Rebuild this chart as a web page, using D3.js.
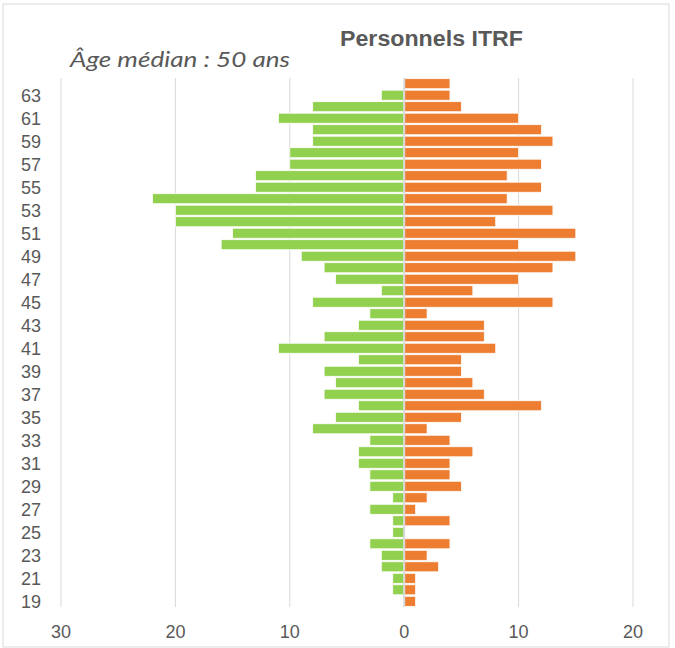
<!DOCTYPE html>
<html>
<head>
<meta charset="utf-8">
<script src="https://cdn.jsdelivr.net/npm/d3@7"></script>
<style>
  body { margin: 0; background: #fff; }
  svg { display: block; }
</style>
</head>
<body>
<script>
"use strict";

// ages from 19 to 64, top of the pyramid is 64
var ages = [19,20,21,22,23,24,25,26,27,28,29,30,31,32,33,34,35,36,37,38,39,40,41,
            42,43,44,45,46,47,48,49,50,51,52,53,54,55,56,57,58,59,60,61,62,63,64];
// left side (green), same order as ages
var greenValues = [0,1,1,2,2,3,1,1,3,1,3,3,4,4,3,8,6,4,7,6,7,4,11,
                   7,4,3,8,2,6,7,9,16,15,20,20,22,13,13,10,10,8,8,11,8,2,0];
// right side (orange)
var orangeValues = [1,1,1,3,2,4,0,4,1,2,5,4,4,6,4,2,5,12,7,6,5,5,8,
                    7,7,2,13,6,10,13,15,10,15,8,13,9,12,9,12,10,13,12,10,5,4,4];
var xTicks = [-30,-20,-10,0,10,20];
var title = "Personnels ITRF";
var subtitle = "Âge médian : 50 ans";

function pyramid(){
  var width = 675,
      height = 648;
  var svg = d3.select("body")
              .append("svg")
              .attr("width", width)
              .attr("height", height);

  svg.append("rect")
      .attr("x", 3).attr("y", 4)
      .attr("width", 666).attr("height", 643)
      .attr("fill", "#fff")
      .attr("stroke", "#d9d9d9")
      .attr("stroke-width", 1);

  var x = d3.scaleLinear()
      .domain([-30, 20])
      .range([61, 633]);

  var y = d3.scaleBand()
      .domain(ages.slice().reverse())
      .range([78, 607])
      .paddingInner(0.13)
      .paddingOuter(0.06);

  // vertical grid lines
  svg.append("g")
      .selectAll("line")
      .data(xTicks.filter(function(d){ return d !== 0; }))
      .enter().append("line")
        .attr("x1", function(d){ return x(d); })
        .attr("x2", function(d){ return x(d); })
        .attr("y1", 78)
        .attr("y2", 607)
        .style("stroke", "#d9d9d9")
        .style("stroke-width", 1);

  var rows = ages.map(function(a, i){
    return {age: a, green: greenValues[i], orange: orangeValues[i]};
  });

  svg.append("g")
      .selectAll("rect")
      .data(rows.filter(function(d){ return d.green > 0; }))
      .enter().append("rect")
        .attr("x", function(d){ return x(-d.green); })
        .attr("y", function(d){ return y(d.age); })
        .attr("width", function(d){ return x(0) - x(-d.green); })
        .attr("height", y.bandwidth())
        .attr("fill", "#92D050")
        .style("stroke", "#ffffff")
        .style("stroke-width", "0.75");

  svg.append("g")
      .selectAll("rect")
      .data(rows.filter(function(d){ return d.orange > 0; }))
      .enter().append("rect")
        .attr("x", x(0))
        .attr("y", function(d){ return y(d.age); })
        .attr("width", function(d){ return x(d.orange) - x(0); })
        .attr("height", y.bandwidth())
        .attr("fill", "#ED7D31")
        .style("stroke", "#ffffff")
        .style("stroke-width", "0.75");

  // zero axis
  svg.append("line")
      .attr("x1", x(0)).attr("x2", x(0))
      .attr("y1", 78).attr("y2", 607)
      .style("stroke", "#d9d9d9")
      .style("stroke-width", 2);

  // age labels, every other one
  svg.append("g")
      .selectAll("text")
      .data(ages.filter(function(a){ return a % 2 === 1; }))
      .enter().append("text")
        .attr("x", 41)
        .attr("y", function(d){ return y(d) + y.bandwidth() / 2; })
        .attr("dy", "0.36em")
        .attr("text-anchor", "end")
        .style("font-family", "Liberation Sans, Arial, sans-serif")
        .style("font-size", "18px")
        .style("fill", "#595959")
        .text(function(d){ return d; });

  svg.append("g")
      .selectAll("text")
      .data(xTicks)
      .enter().append("text")
        .attr("x", function(d){ return x(d); })
        .attr("y", 632)
        .attr("dy", "0.36em")
        .attr("text-anchor", "middle")
        .style("font-family", "Liberation Sans, Arial, sans-serif")
        .style("font-size", "18px")
        .style("fill", "#595959")
        .text(function(d){ return Math.abs(d); });

  svg.append("text")
      .attr("x", 340)
      .attr("y", 46)
      .attr("textLength", 183)
      .attr("lengthAdjust", "spacingAndGlyphs")
      .style("font-family", "Liberation Sans, Arial, sans-serif")
      .style("font-weight", "bold")
      .style("font-size", "22px")
      .style("fill", "#595959")
      .text(title);

  svg.append("text")
      .attr("x", 70)
      .attr("y", 67)
      .attr("textLength", 220)
      .attr("lengthAdjust", "spacingAndGlyphs")
      .style("font-family", "Lato, sans-serif")
      .style("font-style", "italic")
      .style("font-size", "21px")
      .style("fill", "#595959")
      .text(subtitle);
}

pyramid();
</script>
</body>
</html>
